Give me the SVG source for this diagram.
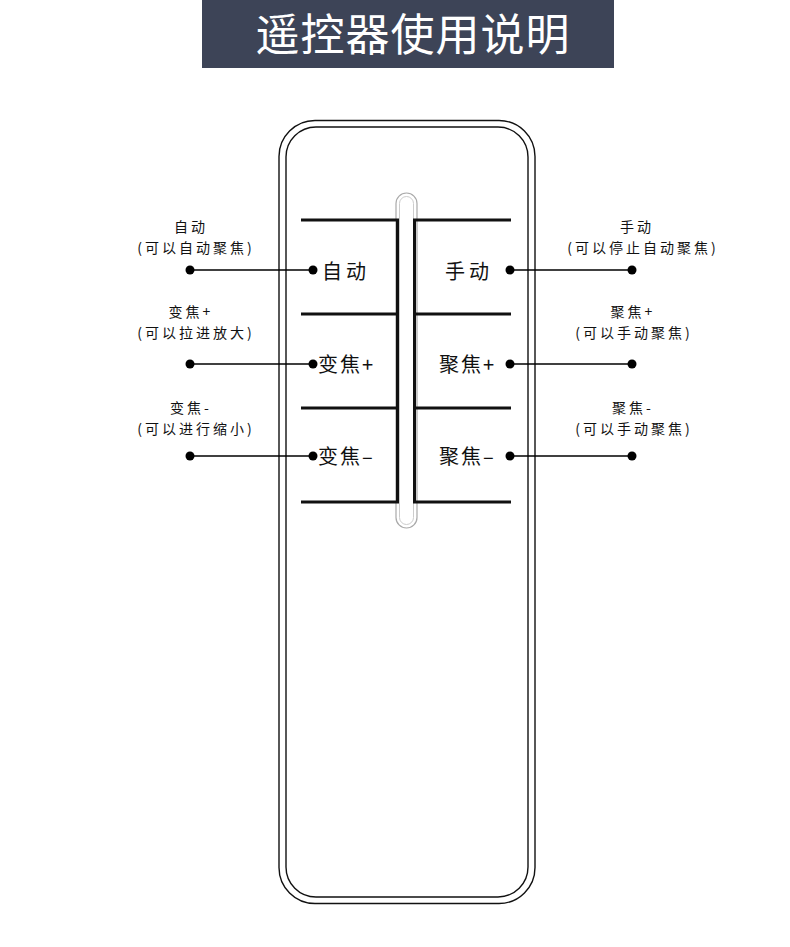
<svg xmlns="http://www.w3.org/2000/svg" width="790" height="947" viewBox="0 0 790 947">
<style>
.t{font-family:"Noto Sans CJK SC","Noto Sans",sans-serif;fill:#111}
.lab{font-size:14px;text-anchor:middle;letter-spacing:3px}
.btn{font-size:20px;letter-spacing:4px}
.ln{stroke:#000;stroke-width:1.3;fill:none}
.dot{fill:#000}
.bar{stroke:#111;stroke-width:3;fill:none}
</style>
<rect x="0" y="0" width="790" height="947" fill="#fff"/>
<g id="title">
<rect x="202" y="0" width="412" height="68" fill="#3d4457"/>
<text x="413" y="51" class="t" style="fill:#fff;font-size:44px;letter-spacing:1px;text-anchor:middle">遥控器使用说明</text>
</g>
<g id="remote">
<rect x="279" y="120.5" width="256" height="783" rx="36" fill="none" stroke="#111" stroke-width="1.4"/>
<rect x="286" y="127" width="242" height="770" rx="30" fill="none" stroke="#111" stroke-width="1.4"/>
<rect x="396" y="193" width="21" height="335" rx="10.5" fill="none" stroke="#aaa" stroke-width="1.2"/>
<rect x="399.5" y="196.5" width="14" height="328" rx="7" fill="none" stroke="#ccc" stroke-width="1"/>
</g>
<g id="buttons">
<path class="bar" d="M301 220H397.5V502H301M301 314H397.5M301 408H397.5"/>
<path class="bar" d="M511 220H414.5V502H511M511 314H414.5M511 408H414.5"/>
</g>
<g id="btn-zidong"><text x="322" y="279" class="t btn">自动</text></g>
<g id="btn-shoudong"><text x="445" y="279" class="t btn">手动</text></g>
<g id="btn-bianjiao-plus"><text x="318" y="372" class="t btn" style="letter-spacing:2px">变焦+</text></g>
<g id="btn-jujiao-plus"><text x="439" y="372" class="t btn" style="letter-spacing:2px">聚焦+</text></g>
<g id="btn-bianjiao-minus"><text x="318" y="464" class="t btn" style="letter-spacing:2px">变焦–</text></g>
<g id="btn-jujiao-minus"><text x="439" y="464" class="t btn" style="letter-spacing:2px">聚焦–</text></g>
<g id="connectors">
<line class="ln" x1="190" y1="270" x2="313" y2="270"/>
<line class="ln" x1="510" y1="270" x2="632" y2="270"/>
<line class="ln" x1="190" y1="364" x2="313" y2="364"/>
<line class="ln" x1="510" y1="364" x2="632" y2="364"/>
<line class="ln" x1="190" y1="456" x2="313" y2="456"/>
<line class="ln" x1="510" y1="456" x2="632" y2="456"/>
<circle class="dot" cx="190" cy="270" r="4.5"/><circle class="dot" cx="313" cy="270" r="4.5"/>
<circle class="dot" cx="510" cy="270" r="4.5"/><circle class="dot" cx="632" cy="270" r="4.5"/>
<circle class="dot" cx="190" cy="364" r="4.5"/><circle class="dot" cx="313" cy="364" r="4.5"/>
<circle class="dot" cx="510" cy="364" r="4.5"/><circle class="dot" cx="632" cy="364" r="4.5"/>
<circle class="dot" cx="190" cy="456" r="4.5"/><circle class="dot" cx="313" cy="456" r="4.5"/>
<circle class="dot" cx="510" cy="456" r="4.5"/><circle class="dot" cx="632" cy="456" r="4.5"/>
</g>
<g id="label-zidong"><text x="191" y="232" class="t lab">自动</text><text x="196" y="253" class="t lab">(可以自动聚焦)</text></g>
<g id="label-shoudong"><text x="637" y="232" class="t lab">手动</text><text x="643" y="253" class="t lab">(可以停止自动聚焦)</text></g>
<g id="label-bianjiao-plus"><text x="191" y="317" class="t lab">变焦+</text><text x="196" y="338" class="t lab">(可以拉进放大)</text></g>
<g id="label-jujiao-plus"><text x="633" y="317" class="t lab">聚焦+</text><text x="634" y="338" class="t lab">(可以手动聚焦)</text></g>
<g id="label-bianjiao-minus"><text x="191" y="413" class="t lab">变焦-</text><text x="196" y="434" class="t lab">(可以进行缩小)</text></g>
<g id="label-jujiao-minus"><text x="633" y="413" class="t lab">聚焦-</text><text x="634" y="434" class="t lab">(可以手动聚焦)</text></g>
</svg>
